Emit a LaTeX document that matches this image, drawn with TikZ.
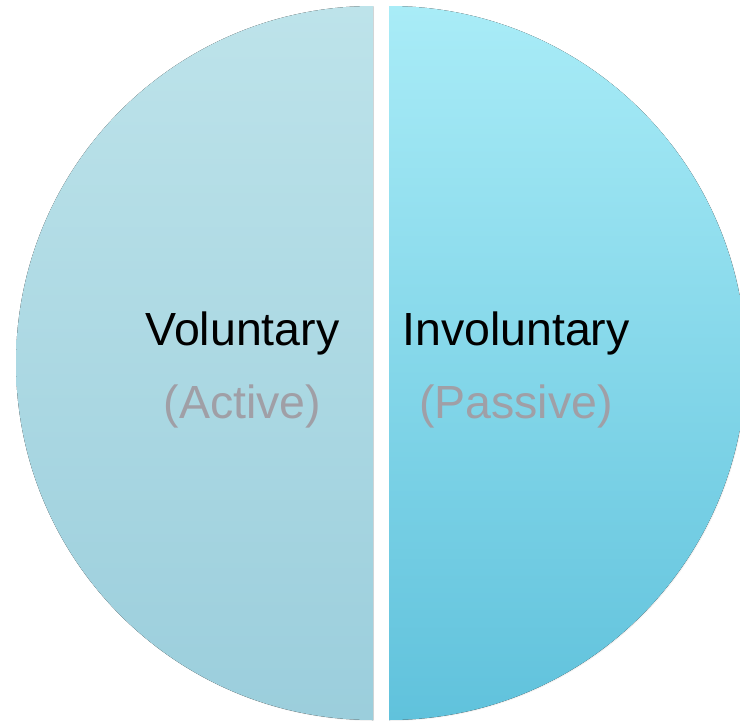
\documentclass[tikz,border=0pt]{standalone}
\usepackage{fontspec}
\setmainfont{Liberation Sans}
\usepackage{tikz}
\usetikzlibrary{positioning, shadows}

\definecolor{volTop}{HTML}{BDE3EA}
\definecolor{volBottom}{HTML}{9BCEDC}
\definecolor{involTop}{HTML}{A9ECF7}
\definecolor{involBottom}{HTML}{60C2DC}
\definecolor{subGray}{HTML}{A09FA6}

\tikzset{
    half/.style={drop shadow={opacity=0.1, shadow xshift=1pt, shadow yshift=-1pt}},
    mainword/.style={font=\fontsize{46.5}{56}\selectfont, text=black, inner sep=0pt, anchor=base},
    subword/.style={font=\fontsize{46.5}{56}\selectfont, text=subGray, inner sep=0pt, anchor=base}
}

\begin{document}
\begin{tikzpicture}[x=1pt, y=1pt]
    \useasboundingbox (0,0) rectangle (740,-726);
    \clip (0,0) rectangle (740,-726);

    % two halves of the circle, pulled apart
    \fill[half, top color=volTop, bottom color=volBottom]
        (373,-6) arc[start angle=90, end angle=270, radius=357] -- cycle;
    \fill[half, top color=involTop, bottom color=involBottom]
        (389,-6) arc[start angle=90, end angle=-90, radius=357] -- cycle;

    \node[mainword] (vol) at (242.5,-345) {Voluntary};
    \node[subword, below=73pt of vol.base, anchor=base] (act) {(Active)};

    \node[mainword] (invol) at (516,-345) {Involuntary};
    \node[subword, below=73pt of invol.base, anchor=base] (pass) {(Passive)};
\end{tikzpicture}
\end{document}
